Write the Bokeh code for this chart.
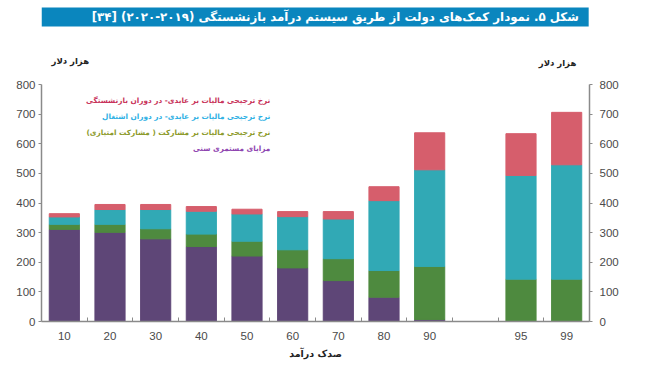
from bokeh.plotting import figure
from bokeh.models import (ColumnDataSource, Range1d, LinearAxis, FixedTicker, Label,
                          BoxAnnotation)
from bokeh.layouts import column
from bokeh.embed import file_html
from bokeh.resources import INLINE

# ---- data (thousand dollars) ----
categories = ["10", "20", "30", "40", "50", "60", "70", "80", "90", "95", "99"]
age_pension = [311, 301, 279, 253, 221, 181, 138, 82, 7, 0, 0]
contrib_concession = [17, 27, 34, 42, 50, 61, 74, 90, 179, 143, 143]
earnings_working = [25, 50, 65, 77, 92, 112, 134, 236, 326, 350, 386]
earnings_retirement = [11, 17, 17, 16, 16, 17, 25, 47, 125, 141, 177]
y_ticks = [0, 100, 200, 300, 400, 500, 600, 700, 800]

series_names = [
    "مزایای مستمری سنی",
    "نرخ ترجیحی مالیات بر مشارکت ( مشارکت امتیازی)",
    "نرخ ترجیحی مالیات بر عایدی- در دوران اشتغال",
    "نرخ ترجیحی مالیات بر عایدی- در دوران بازنشستگی",
]
title_text = "شکل ۵. نمودار کمک‌های دولت از طریق سیستم درآمد بازنشستگی (۲۰۱۹-۲۰۲۰) [۳۴]"
y_label = "هزار دلار"
x_label = "صدک درآمد"

bar_colors = ["#5E4677", "#4E8A3F", "#31A9B5", "#D65E6C"]
legend_colors = ["#8E44B0", "#8C9A2A", "#2EB0E4", "#C8325A"]

AR_FONT = "DejaVu Sans"
NUM_FONT = "Liberation Sans"

# slots along the x axis: a blank slot separates 90 from 95
slots = categories[:9] + [""] + categories[9:]
xpos = [slots.index(c) for c in categories]

src = ColumnDataSource(dict(
    x=xpos,
    s0=age_pension,
    s1=contrib_concession,
    s2=earnings_working,
    s3=earnings_retirement,
))

# ---- banner figure ----
W = 663
BH = 27
banner = figure(width=W, height=BH, output_backend="svg", toolbar_location=None,
                x_range=Range1d(0, W), y_range=Range1d(BH, 0),
                x_axis_location=None, y_axis_location=None,
                min_border=0, outline_line_color=None,
                background_fill_color="white", border_fill_color="white")
banner.grid.visible = False
banner.add_layout(BoxAnnotation(left=0, right=662, top=7, bottom=26,
                                fill_color="#0A86BE", fill_alpha=1.0,
                                line_color=None))
banner.add_layout(Label(x=650, y=16.5, text=title_text, text_align="right",
                        text_baseline="middle", text_color="white",
                        text_font=AR_FONT, text_font_size="11.8px",
                        text_font_style="bold"))

# ---- main figure ----
H = 386 - BH
frame_h = 294
px_per_unit = 0.29625
y_top = frame_h / px_per_unit

p = figure(width=W, height=H, output_backend="svg", toolbar_location=None,
           x_range=Range1d(-0.5, len(slots) - 0.5), y_range=Range1d(0, y_top),
           x_axis_location=None, y_axis_location=None,
           min_border_left=41, min_border_right=74, min_border_top=0,
           min_border_bottom=H - frame_h, outline_line_color=None,
           background_fill_color="white", border_fill_color="white")
p.grid.visible = False

p.vbar_stack(["s0", "s1", "s2", "s3"], x="x", width=0.66, color=bar_colors,
             source=src)

AX_COLOR = "#8A8A8A"
TICK_LABEL_COLOR = "#4A4A4A"


def style_y(ax):
    ax.bounds = (0, 800)
    ax.axis_line_color = AX_COLOR
    ax.axis_line_width = 1.5
    ax.major_tick_line_color = AX_COLOR
    ax.major_tick_in = 0
    ax.major_tick_out = 3
    ax.minor_tick_line_color = None
    ax.major_label_text_font = NUM_FONT
    ax.major_label_text_font_size = "11.5px"
    ax.major_label_text_color = TICK_LABEL_COLOR
    ax.major_label_standoff = 3


left = LinearAxis(ticker=FixedTicker(ticks=y_ticks))
style_y(left)
p.add_layout(left, "left")

right = LinearAxis(ticker=FixedTicker(ticks=y_ticks))
style_y(right)
right.major_label_standoff = 7
p.add_layout(right, "right")

boundaries = [i + 0.5 for i in range(len(slots) - 1)]
xaxis = LinearAxis(ticker=FixedTicker(ticks=xpos, minor_ticks=boundaries))
xaxis.major_label_overrides = {x: c for x, c in zip(xpos, categories)}
xaxis.axis_line_color = AX_COLOR
xaxis.axis_line_width = 1.5
xaxis.major_tick_line_color = None
xaxis.minor_tick_line_color = AX_COLOR
xaxis.minor_tick_in = 4
xaxis.minor_tick_out = 0
xaxis.major_label_text_font = NUM_FONT
xaxis.major_label_text_font_size = "11.5px"
xaxis.major_label_text_color = TICK_LABEL_COLOR
xaxis.major_label_standoff = 4
xaxis.axis_label = x_label
xaxis.axis_label_text_font = AR_FONT
xaxis.axis_label_text_font_size = "9.5px"
xaxis.axis_label_text_font_style = "bold"
xaxis.axis_label_text_color = "#222222"
xaxis.axis_label_standoff = 5
p.add_layout(xaxis, "below")

# unit labels
p.add_layout(Label(x=0.13, y=881, text=y_label, text_align="center",
                   text_baseline="middle", text_font=AR_FONT,
                   text_font_size="8.5px", text_font_style="bold",
                   text_color="#222222"))
p.add_layout(Label(x=10.8, y=874, text=y_label, text_align="center",
                   text_baseline="middle", text_font=AR_FONT,
                   text_font_size="8.5px", text_font_style="bold",
                   text_color="#222222"))

# legend as coloured text lines (top line = top segment)
legend_y = [746, 692, 638, 584]
for name, col, yy in zip(series_names[::-1], legend_colors[::-1], legend_y):
    p.add_layout(Label(x=4.51, y=yy, text=name, text_align="right",
                       text_baseline="middle", text_font=AR_FONT,
                       text_font_size="7.3px", text_font_style="bold",
                       text_color=col))

layout = column(banner, p, spacing=0)
open("out.html", "w").write(file_html(layout, INLINE))
